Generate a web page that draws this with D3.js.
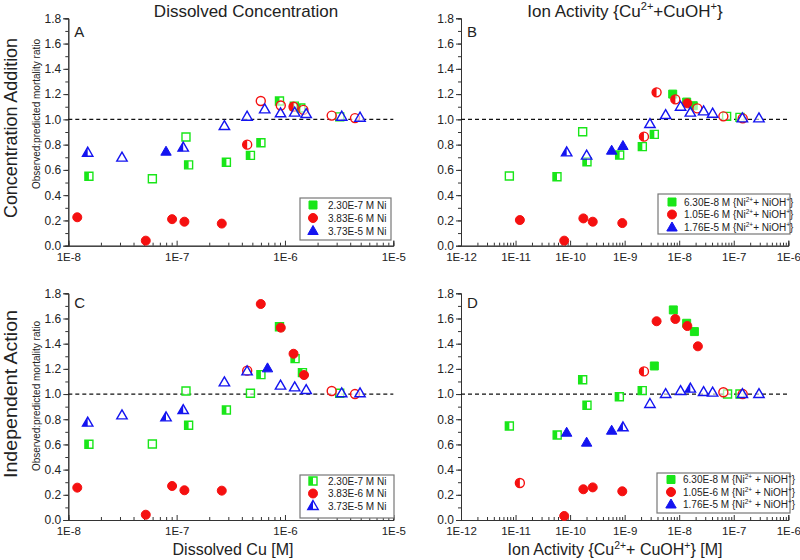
<!DOCTYPE html>
<html><head><meta charset="utf-8">
<script src="https://cdn.jsdelivr.net/npm/d3@7"></script>
<style>body{margin:0;background:#fff}svg{display:block}text{font-family:Arial,"Liberation Sans",sans-serif;fill:#222}</style>
</head><body><svg id="c" width="800" height="560"></svg>
<script>
// ---------- data ----------
const yTickValues = [0, 0.2, 0.4, 0.6, 0.8, 1.0, 1.2, 1.4, 1.6, 1.8];
const xTicksDissolved = [1e-8, 1e-7, 1e-6, 1e-5];
const xTickLabelsDissolved = ["1E-8", "1E-7", "1E-6", "1E-5"];
const xTicksIon = [1e-12, 1e-11, 1e-10, 1e-9, 1e-8, 1e-7, 1e-6];
const xTickLabelsIon = ["1E-12", "1E-11", "1E-10", "1E-9", "1E-8", "1E-7", "1E-6"];
const legendDissolved = ["2.30E-7 M Ni", "3.83E-6 M Ni", "3.73E-5 M Ni"];
const legendIon = ["6.30E-8", "1.05E-6", "1.76E-5"];
// each point: [x, ratio, fill]  fill: f = filled, o = open, h = half-filled
const panelA_green = [[1.55e-8,0.55,"h"],[5.97e-8,0.53,"o"],[1.22e-7,0.86,"o"],[1.29e-7,0.64,"h"],[2.88e-7,0.66,"h"],[4.8e-7,0.715,"h"],[6.0e-7,0.815,"h"],[8.9e-7,1.145,"h"],[1.22e-6,1.105,"h"],[1.4e-6,1.09,"h"],[3.2e-6,1.02,"o"]];
const panelA_red = [[1.21e-8,0.225,"f"],[5.19e-8,0.04,"f"],[9.08e-8,0.21,"f"],[1.18e-7,0.19,"f"],[2.61e-7,0.175,"f"],[4.48e-7,0.80,"h"],[5.98e-7,1.145,"o"],[9.15e-7,1.11,"o"],[1.2e-6,1.10,"h"],[1.48e-6,1.075,"o"],[2.7e-6,1.03,"o"],[4.43e-6,1.01,"o"]];
const panelA_blue = [[1.51e-8,0.736,"h"],[3.13e-8,0.697,"o"],[7.98e-8,0.744,"f"],[1.15e-7,0.776,"h"],[2.76e-7,0.947,"o"],[4.47e-7,1.021,"o"],[6.5e-7,1.079,"o"],[9.1e-7,1.048,"o"],[1.23e-6,1.053,"o"],[1.57e-6,1.042,"o"],[3.34e-6,1.021,"o"],[4.93e-6,1.013,"o"]];
const panelB_green = [[7.7e-12,0.552,"o"],[5.75e-11,0.546,"h"],[1.7e-10,0.902,"o"],[2.04e-10,0.665,"h"],[8.1e-10,0.718,"h"],[2.11e-9,0.784,"h"],[3.5e-9,0.881,"h"],[7.6e-9,1.20,"f"],[1.37e-8,1.137,"f"],[1.81e-8,1.108,"f"],[7.4e-8,1.024,"o"],[1.3e-7,1.016,"o"]];
const panelB_red = [[1.2e-11,0.203,"f"],[7.8e-11,0.04,"f"],[1.75e-10,0.216,"f"],[2.6e-10,0.19,"f"],[9.05e-10,0.179,"f"],[2.26e-9,0.863,"h"],[3.85e-9,1.214,"h"],[8.5e-9,1.158,"h"],[1.41e-8,1.127,"f"],[2.15e-8,1.087,"o"],[6.45e-8,1.024,"o"],[1.46e-7,1.008,"o"]];
const panelB_blue = [[8.65e-11,0.739,"h"],[2.01e-10,0.713,"o"],[5.78e-10,0.752,"f"],[9.3e-10,0.789,"f"],[2.91e-9,0.963,"o"],[5.64e-9,1.034,"o"],[1.06e-8,1.10,"o"],[1.6e-8,1.053,"o"],[2.8e-8,1.063,"o"],[4.1e-8,1.045,"o"],[1.44e-7,1.008,"o"],[2.9e-7,1.008,"o"]];
const panelC_green = [[1.55e-8,0.601,"h"],[5.97e-8,0.603,"o"],[1.22e-7,1.024,"o"],[1.29e-7,0.752,"h"],[2.88e-7,0.873,"h"],[4.8e-7,1.006,"o"],[6.0e-7,1.154,"h"],[8.9e-7,1.535,"h"],[1.24e-6,1.281,"h"],[1.45e-6,1.17,"h"],[3.2e-6,1.006,"o"]];
const panelC_red = [[1.21e-8,0.257,"f"],[5.19e-8,0.042,"f"],[9.08e-8,0.27,"f"],[1.18e-7,0.236,"f"],[2.61e-7,0.233,"f"],[4.48e-7,1.186,"o"],[5.98e-7,1.715,"f"],[9.15e-7,1.527,"f"],[1.2e-6,1.32,"f"],[1.5e-6,1.151,"f"],[2.7e-6,1.024,"o"],[4.43e-6,1.0,"o"]];
const panelC_blue = [[1.51e-8,0.773,"h"],[3.13e-8,0.831,"o"],[7.98e-8,0.815,"h"],[1.15e-7,0.873,"h"],[2.76e-7,1.093,"o"],[4.47e-7,1.18,"o"],[6.9e-7,1.204,"f"],[9.1e-7,1.067,"o"],[1.23e-6,1.053,"o"],[1.57e-6,1.032,"o"],[3.34e-6,1.006,"o"],[4.93e-6,1.006,"o"]];
const panelD_green = [[7.7e-12,0.746,"h"],[5.8e-11,0.675,"h"],[1.7e-10,1.114,"h"],[2.04e-10,0.911,"h"],[8e-10,0.979,"h"],[2.1e-9,1.027,"h"],[3.5e-9,1.223,"f"],[7.8e-9,1.668,"f"],[1.37e-8,1.562,"f"],[1.9e-8,1.496,"f"],[7.7e-8,1.0,"o"],[1.3e-7,1.0,"o"]];
const panelD_red = [[1.2e-11,0.294,"h"],[7.8e-11,0.032,"f"],[1.75e-10,0.244,"f"],[2.6e-10,0.259,"f"],[9.05e-10,0.228,"f"],[2.26e-9,1.18,"h"],[3.85e-9,1.578,"f"],[8.5e-9,1.596,"f"],[1.41e-8,1.54,"f"],[2.2e-8,1.379,"f"],[6.45e-8,1.014,"o"],[1.46e-7,1.0,"o"]];
const panelD_blue = [[8.65e-11,0.693,"f"],[2.01e-10,0.614,"f"],[5.78e-10,0.709,"f"],[9.3e-10,0.736,"h"],[2.91e-9,0.921,"o"],[5.64e-9,1.0,"o"],[1.06e-8,1.024,"o"],[1.6e-8,1.043,"h"],[2.8e-8,1.016,"o"],[4.1e-8,1.011,"o"],[1.44e-7,1.0,"o"],[2.9e-7,1.0,"o"]];

// ---------- styling / layout ----------
const COLORS = ["#19e619", "#f51010", "#1414f0"];
const SHAPES = ["square", "circle", "triangle"];
const svg = d3.select("#c");

const shapePath = {
  square: "M-4,-4H4V4H-4Z",
  circle: "M0,-4.5A4.5,4.5 0 1 1 0,4.5A4.5,4.5 0 1 1 0,-4.5Z",
  triangle: "M0,-5.5L5.2,3.5L-5.2,3.5Z"
};
const halfPath = {
  square: "M-4,-4H0V4H-4Z",
  circle: "M0,-4.5A4.5,4.5 0 0 0 0,4.5Z",
  triangle: "M0,-5.5L0,3.5L-5.2,3.5Z"
};

function drawMarker(g, shape, color, fill) {
  if (fill === "f") {
    g.append("path").attr("d", shapePath[shape]).attr("fill", color).attr("stroke", color).attr("stroke-width", 1);
  } else {
    g.append("path").attr("d", shapePath[shape]).attr("fill", "#fff").attr("fill-opacity", 0.6).attr("stroke", color).attr("stroke-width", 1.4);
    if (fill === "h") g.append("path").attr("d", halfPath[shape]).attr("fill", color);
  }
}

function richText(sel, parts, size) {
  const shift = size * 0.4;
  let raised = false;
  parts.forEach(p => {
    const sup = Array.isArray(p);
    const t = sup ? p[0] : p;
    const ts = sel.append("tspan").text(t);
    if (sup && !raised) { ts.attr("dy", -shift).attr("font-size", size * 0.65); raised = true; }
    else if (sup) { ts.attr("font-size", size * 0.65); }
    else if (raised) { ts.attr("dy", shift); raised = false; }
  });
}

const panels = [
  {letter: "A", xr: [68.3, 393.3], yr: [245.7, 18.3], dom: [1e-8, 1e-5], ticks: xTicksDissolved, labels: xTickLabelsDissolved,
   series: [panelA_green, panelA_red, panelA_blue], legend: {box: [300, 198, 391, 240], rows: [205, 218, 231], mx: 313, tx: 328, ion: false, mfill: ["f","f","f"]}},
  {letter: "B", xr: [461, 788.3], yr: [245.7, 18.3], dom: [1e-12, 1e-6], ticks: xTicksIon, labels: xTickLabelsIon,
   series: [panelB_green, panelB_red, panelB_blue], legend: {box: [658, 194, 790, 234], rows: [202, 214.5, 227.5], mx: 672, tx: 684, ion: true, tight: true, mfill: ["f","f","f"]}},
  {letter: "C", xr: [68.3, 393.3], yr: [520, 293.3], dom: [1e-8, 1e-5], ticks: xTicksDissolved, labels: xTickLabelsDissolved,
   series: [panelC_green, panelC_red, panelC_blue], legend: {box: [300, 475, 394, 518], rows: [481, 493.5, 506], mx: 313, tx: 328, ion: false, mfill: ["h","f","h"]}},
  {letter: "D", xr: [461, 788.3], yr: [520, 293.3], dom: [1e-12, 1e-6], ticks: xTicksIon, labels: xTickLabelsIon,
   series: [panelD_green, panelD_red, panelD_blue], legend: {box: [657, 473, 790, 513], rows: [479.5, 492, 504.5], mx: 671, tx: 683, ion: true, tight: false, mfill: ["f","f","f"]}}
];

panels.forEach(P => {
  const x = d3.scaleLog().domain(P.dom).range(P.xr);
  const y = d3.scaleLinear().domain([0, 1.8]).range(P.yr);
  const g = svg.append("g");

  // y axis
  const yMinor = d3.range(0, 1.81, 0.1).map(v => +v.toFixed(1));
  const yAx = g.append("g").attr("transform", `translate(${P.xr[0]},0)`);
  yAx.call(d3.axisLeft(y).tickValues(yMinor).tickSize(3).tickFormat(""));
  yAx.append("g").call(d3.axisLeft(y).tickValues(yTickValues).tickSize(5).tickFormat(d3.format(".1f")));
  yAx.selectAll(".domain").attr("stroke", "#333");
  yAx.selectAll("line").attr("stroke", "#333");
  yAx.selectAll("text").attr("font-size", 12).attr("fill", "#333").attr("x", -7);

  // x axis (ticks pointing inward)
  const minor = [];
  const lo = Math.round(Math.log10(P.dom[0])), hi = Math.round(Math.log10(P.dom[1]));
  for (let e = lo; e < hi; e++) for (let m = 2; m <= 9; m++) minor.push(m * Math.pow(10, e));
  const xAx = g.append("g").attr("transform", `translate(0,${P.yr[0]})`);
  xAx.call(d3.axisTop(x).tickValues(minor).tickSize(3).tickFormat(""));
  const xMaj = xAx.append("g").call(d3.axisTop(x).tickValues(P.ticks).tickSize(5).tickFormat((d, i) => P.labels[i]));
  xAx.selectAll(".domain").attr("stroke", "#333");
  xAx.selectAll("line").attr("stroke", "#333");
  xMaj.selectAll("text").attr("font-size", 11.5).attr("fill", "#333").attr("y", 15).attr("dy", 0);

  // reference line at ratio 1
  g.append("line").attr("x1", P.xr[0]).attr("x2", P.xr[1]).attr("y1", y(1)).attr("y2", y(1))
    .attr("stroke", "#111").attr("stroke-width", 1.2).attr("stroke-dasharray", "4,3");

  // panel letter
  g.append("text").attr("x", P.xr[0] + 6).attr("y", P.yr[1] + (P.letter < "C" ? 19 : 15)).attr("font-size", 15).attr("fill", "#222").text(P.letter);

  // points
  P.series.forEach((data, si) => {
    data.forEach(d => {
      const mg = g.append("g").attr("transform", `translate(${x(d[0])},${y(d[1])})`);
      drawMarker(mg, SHAPES[si], COLORS[si], d[2]);
    });
  });

  // legend
  const L = P.legend;
  g.append("rect").attr("x", L.box[0]).attr("y", L.box[1]).attr("width", L.box[2] - L.box[0]).attr("height", L.box[3] - L.box[1])
    .attr("fill", "#fff").attr("stroke", "#777").attr("stroke-width", 1.2);
  L.rows.forEach((ry, i) => {
    const mg = g.append("g").attr("transform", `translate(${L.mx},${ry})`);
    drawMarker(mg, SHAPES[i], COLORS[i], L.mfill[i]);
    const t = g.append("text").attr("x", L.tx).attr("y", ry + 3.5).attr("font-size", 10).attr("fill", "#333");
    if (L.ion) {
      richText(t, [legendIon[i] + " M {Ni", ["2+"], (L.tight ? "+ NiOH" : " + NiOH"), ["+"], "}"], 10);
    } else {
      t.text(legendDissolved[i]);
    }
  });
});

// titles
svg.append("text").attr("x", 246).attr("y", 17).attr("text-anchor", "middle").attr("font-size", 17).text("Dissolved Concentration");
richText(svg.append("text").attr("x", 625).attr("y", 17).attr("text-anchor", "middle").attr("font-size", 17),
  ["Ion Activity {Cu", ["2+"], "+CuOH", ["+"], "}"], 17);
svg.append("text").attr("x", 233).attr("y", 555).attr("text-anchor", "middle").attr("font-size", 16).text("Dissolved Cu [M]");
richText(svg.append("text").attr("x", 615).attr("y", 555).attr("text-anchor", "middle").attr("font-size", 16),
  ["Ion Activity {Cu", ["2+"], "+ CuOH", ["+"], "} [M]"], 16);

// row labels
svg.append("text").attr("transform", "translate(17,128) rotate(-90)").attr("text-anchor", "middle").attr("font-size", 19)
  .attr("textLength", 180).attr("lengthAdjust", "spacingAndGlyphs").text("Concentration Addition");
svg.append("text").attr("transform", "translate(17,394) rotate(-90)").attr("text-anchor", "middle").attr("font-size", 19)
  .attr("textLength", 168).attr("lengthAdjust", "spacingAndGlyphs").text("Independent Action");
svg.append("text").attr("transform", "translate(40,114) rotate(-90)").attr("text-anchor", "middle").attr("font-size", 10)
  .attr("fill", "#333").text("Observed:predicted mortality ratio");
svg.append("text").attr("transform", "translate(40,396) rotate(-90)").attr("text-anchor", "middle").attr("font-size", 10)
  .attr("fill", "#333").text("Observed:predicted mortality ratio");
</script></body></html>
